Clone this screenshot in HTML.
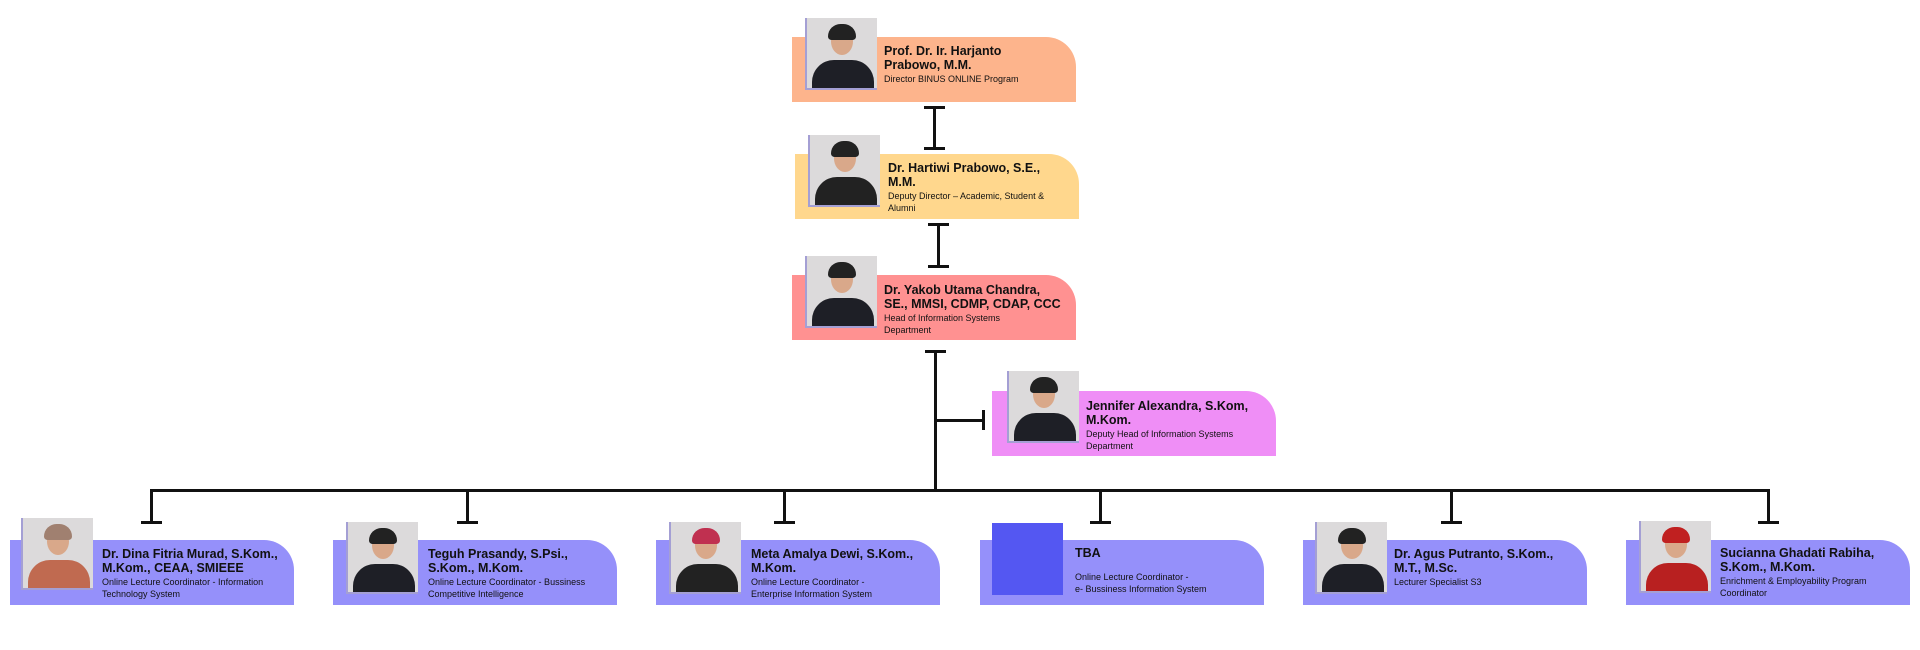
<!DOCTYPE html>
<html><head><meta charset="utf-8"><style>
body{margin:0;width:1920px;height:650px;background:#fff;position:relative;overflow:hidden;font-family:"Liberation Sans",sans-serif;}
.box{position:absolute;width:284px;height:65px;border-top-right-radius:30px;}
.ph{position:absolute;width:72px;height:72px;background:#dcdadb;overflow:hidden;border-left:2px solid rgba(60,50,200,.35);border-bottom:2px solid rgba(60,50,200,.35);box-sizing:border-box;}
.ph .hd{position:absolute;left:24px;top:10px;width:22px;height:27px;border-radius:50%;background:#d9a88a;}
.ph .hr{position:absolute;left:21px;top:6px;width:28px;height:16px;border-radius:14px 14px 4px 4px;background:#222;}
.ph .bd{position:absolute;left:5px;top:42px;width:62px;height:34px;border-radius:22px 22px 0 0;background:#1e1f26;}
.tx{position:absolute;color:#111;}
.nm{font-weight:bold;font-size:12.5px;line-height:14px;}
.sb{font-size:9px;line-height:12px;margin-top:1px;}
.l{position:absolute;background:#111;}
</style></head><body>

<!-- connectors -->
<div class="l" style="left:933px;top:107px;width:3px;height:42px"></div>
<div class="l" style="left:924px;top:106px;width:21px;height:3px"></div>
<div class="l" style="left:924px;top:147px;width:21px;height:3px"></div>

<div class="l" style="left:937px;top:224px;width:3px;height:43px"></div>
<div class="l" style="left:928px;top:223px;width:21px;height:3px"></div>
<div class="l" style="left:928px;top:265px;width:21px;height:3px"></div>

<div class="l" style="left:934px;top:351px;width:3px;height:140px"></div>
<div class="l" style="left:925px;top:350px;width:21px;height:3px"></div>
<div class="l" style="left:934px;top:419px;width:50px;height:3px"></div>
<div class="l" style="left:982px;top:410px;width:3px;height:20px"></div>

<div class="l" style="left:150px;top:489px;width:1620px;height:3px"></div>
<div class="l" style="left:150px;top:489px;width:3px;height:34px"></div><div class="l" style="left:141px;top:521px;width:21px;height:3px"></div>
<div class="l" style="left:466px;top:489px;width:3px;height:34px"></div><div class="l" style="left:457px;top:521px;width:21px;height:3px"></div>
<div class="l" style="left:783px;top:489px;width:3px;height:34px"></div><div class="l" style="left:774px;top:521px;width:21px;height:3px"></div>
<div class="l" style="left:1099px;top:489px;width:3px;height:34px"></div><div class="l" style="left:1090px;top:521px;width:21px;height:3px"></div>
<div class="l" style="left:1450px;top:489px;width:3px;height:34px"></div><div class="l" style="left:1441px;top:521px;width:21px;height:3px"></div>
<div class="l" style="left:1767px;top:489px;width:3px;height:34px"></div><div class="l" style="left:1758px;top:521px;width:21px;height:3px"></div>

<!-- top -->
<div class="box" style="left:792px;top:37px;background:#fdb48c"></div>
<div class="ph" style="left:805px;top:18px"><div class="hd"></div><div class="hr"></div><div class="bd"></div></div>
<div class="tx" style="left:884px;top:44px;width:190px"><div class="nm">Prof. Dr. Ir. Harjanto<br>Prabowo, M.M.</div><div class="sb">Director BINUS ONLINE Program</div></div>

<div class="box" style="left:795px;top:154px;background:#ffd78d"></div>
<div class="ph" style="left:808px;top:135px"><div class="hd"></div><div class="hr"></div><div class="bd" style="background:#222"></div></div>
<div class="tx" style="left:888px;top:161px;width:190px"><div class="nm">Dr. Hartiwi Prabowo, S.E.,<br>M.M.</div><div class="sb">Deputy Director – Academic, Student &amp;<br>Alumni</div></div>

<div class="box" style="left:792px;top:275px;background:#ff9191"></div>
<div class="ph" style="left:805px;top:256px"><div class="hd"></div><div class="hr"></div><div class="bd"></div></div>
<div class="tx" style="left:884px;top:283px;width:195px"><div class="nm">Dr. Yakob Utama Chandra,<br>SE., MMSI, CDMP, CDAP, CCC</div><div class="sb">Head of Information Systems<br>Department</div></div>

<div class="box" style="left:992px;top:391px;background:#ef8ef6"></div>
<div class="ph" style="left:1007px;top:371px"><div class="hd"></div><div class="hr"></div><div class="bd"></div></div>
<div class="tx" style="left:1086px;top:399px;width:190px"><div class="nm">Jennifer Alexandra, S.Kom,<br>M.Kom.</div><div class="sb">Deputy Head of Information Systems<br>Department</div></div>

<!-- bottom row -->
<div class="box" style="left:10px;top:540px;background:#9590fa"></div>
<div class="ph" style="left:21px;top:518px"><div class="hd"></div><div class="hr" style="background:#a08070"></div><div class="bd" style="background:#c06a50"></div></div>
<div class="tx" style="left:102px;top:547px;width:195px"><div class="nm">Dr. Dina Fitria Murad, S.Kom.,<br>M.Kom., CEAA, SMIEEE</div><div class="sb">Online Lecture Coordinator - Information<br>Technology System</div></div>

<div class="box" style="left:333px;top:540px;background:#9590fa"></div>
<div class="ph" style="left:346px;top:522px"><div class="hd"></div><div class="hr"></div><div class="bd"></div></div>
<div class="tx" style="left:428px;top:547px;width:195px"><div class="nm">Teguh Prasandy, S.Psi.,<br>S.Kom., M.Kom.</div><div class="sb">Online Lecture Coordinator - Bussiness<br>Competitive Intelligence</div></div>

<div class="box" style="left:656px;top:540px;background:#9590fa"></div>
<div class="ph" style="left:669px;top:522px"><div class="hd"></div><div class="hr" style="background:#c03050"></div><div class="bd" style="background:#222"></div></div>
<div class="tx" style="left:751px;top:547px;width:190px"><div class="nm">Meta Amalya Dewi, S.Kom.,<br>M.Kom.</div><div class="sb">Online Lecture Coordinator -<br>Enterprise Information System</div></div>

<div class="box" style="left:980px;top:540px;background:#9590fa"></div>
<div style="position:absolute;left:992px;top:523px;width:71px;height:72px;background:#5457f2"></div>
<div class="tx" style="left:1075px;top:546px;width:190px"><div class="nm">TBA</div><div class="sb" style="margin-top:11px">Online Lecture Coordinator -<br>e- Bussiness Information System</div></div>

<div class="box" style="left:1303px;top:540px;background:#9590fa"></div>
<div class="ph" style="left:1315px;top:522px"><div class="hd"></div><div class="hr"></div><div class="bd"></div></div>
<div class="tx" style="left:1394px;top:547px;width:195px"><div class="nm">Dr. Agus Putranto, S.Kom.,<br>M.T., M.Sc.</div><div class="sb">Lecturer Specialist S3</div></div>

<div class="box" style="left:1626px;top:540px;background:#9590fa"></div>
<div class="ph" style="left:1639px;top:521px"><div class="hd"></div><div class="hr" style="background:#c02020"></div><div class="bd" style="background:#b82020"></div></div>
<div class="tx" style="left:1720px;top:546px;width:195px"><div class="nm">Sucianna Ghadati Rabiha,<br>S.Kom., M.Kom.</div><div class="sb">Enrichment &amp; Employability Program<br>Coordinator</div></div>

</body></html>
